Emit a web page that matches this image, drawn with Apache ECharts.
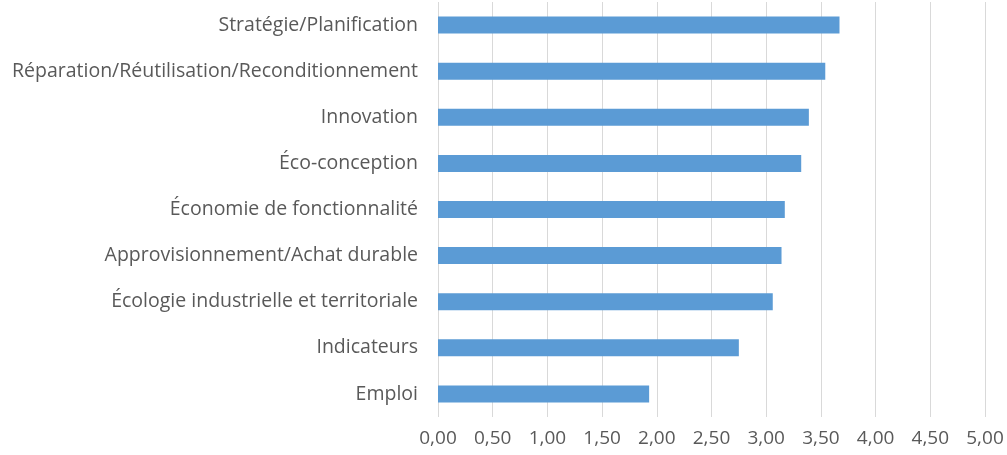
<!DOCTYPE html>
<html>
<head>
<meta charset="utf-8">
<script src="https://cdn.jsdelivr.net/npm/echarts@6/dist/echarts.min.js"></script>
<style>
  html, body { margin: 0; padding: 0; background: #fff; }
  #chart { width: 1007px; height: 455px; }
</style>
</head>
<body>
<div id="chart"></div>
<script>
// categories (top to bottom)
var categories = [
  "Stratégie/Planification",
  "Réparation/Réutilisation/Reconditionnement",
  "Innovation",
  "Éco-conception",
  "Économie de fonctionnalité",
  "Approvisionnement/Achat durable",
  "Écologie industrielle et territoriale",
  "Indicateurs",
  "Emploi"
];
var scores = [3.67, 3.54, 3.39, 3.32, 3.17, 3.14, 3.06, 2.75, 1.93];
var xTicks = [0, 0.5, 1, 1.5, 2, 2.5, 3, 3.5, 4, 4.5, 5];

var chart = echarts.init(document.getElementById("chart"));

var option = {
  animation: false,
  grid: {
    left: 438,
    right: 22,
    top: 2,
    bottom: 38
  },
  xAxis: {
    type: "value",
    min: xTicks[0],
    max: xTicks[xTicks.length - 1],
    interval: 0.5,
    axisLine: { show: false },
    axisTick: { show: false },
    splitLine: { lineStyle: { color: "#d9d9d9", width: 1 } },
    axisLabel: {
      color: "#595959",
      fontFamily: "Open Sans",
      fontSize: 19,
      margin: 12,
      formatter: function (v) { return v.toFixed(2).replace(".", ","); }
    }
  },
  yAxis: {
    type: "category",
    inverse: true,
    data: categories,
    axisLine: { show: false },
    axisTick: { show: false },
    axisLabel: {
      color: "#595959",
      fontFamily: "Open Sans",
      fontSize: 19.5,
      margin: 20
    }
  },
  series: [
    {
      type: "bar",
      data: scores,
      barWidth: 17,
      itemStyle: { color: "#5b9bd5" }
    }
  ]
};

chart.setOption(option);
</script>
</body>
</html>
